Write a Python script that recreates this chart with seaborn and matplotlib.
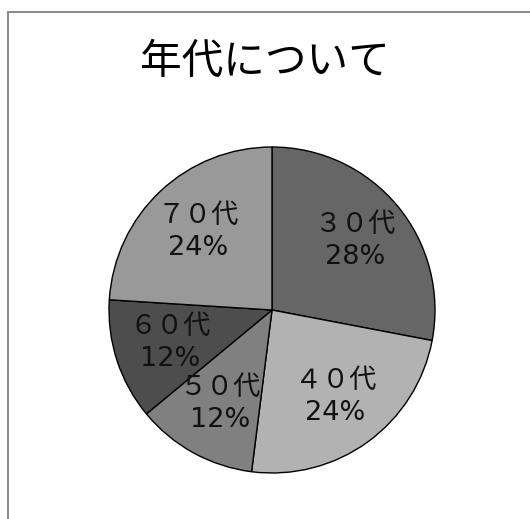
import seaborn as sns
import matplotlib
matplotlib.use("Agg")
import matplotlib.pyplot as plt
from matplotlib.patches import Rectangle

### DATA ###
categories = ['３０代', '４０代', '５０代', '６０代', '７０代']
shares = [28, 24, 12, 12, 24]
slice_colors = ['#666666', '#b2b2b2', '#808080', '#4d4d4d', '#999999']
title = '年代について'

### STYLE ###
sns.set_style('white')
# DejaVu first for the wide half-width digits, CJK font for the rest
plt.rcParams['font.family'] = ['DejaVu Sans', 'Noto Sans CJK JP']

fig = plt.figure(figsize=(5.30, 5.19), dpi=100)
fig.patch.set_facecolor('white')

# gray chart-area frame (bottom/right run off the picture)
fig.patches.append(Rectangle((8 / 530, -0.2), 1.2, 1 - 12 / 519 + 0.2,
                             transform=fig.transFigure, fill=False,
                             edgecolor='#8c8c8c', linewidth=1.5))

fig.text(265 / 530, 1 - 62 / 519, title, ha='center', va='center',
         fontsize=30, color='black', family=['Noto Sans CJK JP'])

# pie area: centre (272, 310) px, radius 163 px
ax = fig.add_axes([(272 - 163) / 530, (519 - 310 - 163) / 519,
                   326 / 530, 326 / 519])

labels = [f'{c}\n{s}%' for c, s in zip(categories, shares)]
wedges, texts = ax.pie(shares, labels=labels, colors=slice_colors,
                       startangle=90, counterclock=False,
                       labeldistance=0.66,
                       wedgeprops=dict(edgecolor='black', linewidth=1.0),
                       textprops=dict(fontsize=19.5, color='#111111',
                                      ha='center', va='center',
                                      linespacing=1.3))
ax.set_xlim(-1, 1)
ax.set_ylim(-1, 1)
ax.set_aspect('equal')
ax.axis('off')

fig.savefig('out.png', dpi=100, facecolor='white')
